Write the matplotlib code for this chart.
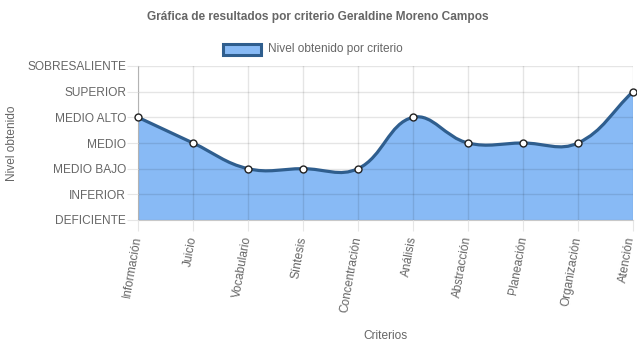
import numpy as np
import matplotlib.pyplot as plt
import matplotlib.transforms as mtransforms
from matplotlib.path import Path
from matplotlib.patches import PathPatch, Rectangle

plt.rcParams['font.family'] = ['Liberation Sans', 'DejaVu Sans']

# datos
criterios = ["Información", "Juicio", "Vocabulario", "Síntesis", "Concentración",
             "Análisis", "Abstracción", "Planeación", "Organización", "Atención"]
niveles = ["DEFICIENTE", "INFERIOR", "MEDIO BAJO", "MEDIO", "MEDIO ALTO",
           "SUPERIOR", "SOBRESALIENTE"]
valores = [4, 3, 2, 2, 2, 4, 3, 3, 3, 5]

W, H = 637, 348
size = 8.6
gris = "#666666"
azul_fill = "#88baf5"
azul_line = "#2f5e8e"

fig = plt.figure(figsize=(W / 100, H / 100), dpi=100)
ax = fig.add_axes([138 / W, 1 - 220 / H, (633 - 138) / W, (220 - 66) / H])

x = np.arange(len(criterios), dtype=float)
y = np.array(valores, dtype=float)

# curva tipo chart.js (tension 0.4), distancias en pixeles
sx = (633 - 138) / (len(criterios) - 1)
sy = (220 - 66) / (len(niveles) - 1)
t = 0.4
px, py = x * sx, y * sy
n = len(x)
cp_prev = []
cp_next = []
for i in range(n):
    a = max(i - 1, 0)
    c = min(i + 1, n - 1)
    d01 = np.hypot(px[i] - px[a], py[i] - py[a])
    d12 = np.hypot(px[c] - px[i], py[c] - py[i])
    tot = d01 + d12
    s01 = d01 / tot if tot else 0
    s12 = d12 / tot if tot else 0
    fa, fb = t * s01, t * s12
    cp_prev.append(((px[i] - fa * (px[c] - px[a])) / sx, (py[i] - fa * (py[c] - py[a])) / sy))
    cp_next.append(((px[i] + fb * (px[c] - px[a])) / sx, (py[i] + fb * (py[c] - py[a])) / sy))

verts = [(x[0], y[0])]
codes = [Path.MOVETO]
for i in range(n - 1):
    verts += [cp_next[i], cp_prev[i + 1], (x[i + 1], y[i + 1])]
    codes += [Path.CURVE4] * 3

fill_verts = verts + [(x[-1], 0), (x[0], 0), (x[0], y[0])]
fill_codes = codes + [Path.LINETO, Path.LINETO, Path.CLOSEPOLY]
ax.add_patch(PathPatch(Path(fill_verts, fill_codes), facecolor=azul_fill, edgecolor="none", zorder=1))
ax.add_patch(PathPatch(Path(verts, codes), facecolor="none", edgecolor=azul_line, lw=2.3, zorder=3))
ax.plot(x, y, "o", ms=5, mfc="white", mec="#222222", mew=1, zorder=4, clip_on=False)

ax.set_xlim(0, n - 1)
ax.set_ylim(0, len(niveles) - 1)
ax.set_xticks(x)
ax.set_xticklabels(criterios, rotation=80, ha="right", va="center", rotation_mode="anchor")
ax.set_yticks(range(len(niveles)))
ax.set_yticklabels(niveles)
ax.tick_params(length=8, color="#e6e6e6", labelcolor=gris, labelsize=size)
ax.tick_params(axis="x", pad=4)
ax.tick_params(axis="y", pad=0.5)
ax.grid(True, color="black", alpha=0.1, lw=1)
ax.set_axisbelow(False)
for s in ["top", "right"]:
    ax.spines[s].set_visible(False)
for s in ["left", "bottom"]:
    ax.spines[s].set_color("#c8c8c8")

# la última etiqueta queda pegada al borde
lbl = ax.get_xticklabels()[-1]
lbl.set_transform(lbl.get_transform() + mtransforms.ScaledTranslation(-2 / 100, 0, fig.dpi_scale_trans))

fig.text(318 / W, 1 - 17 / H, "Gráfica de resultados por criterio Geraldine Moreno Campos",
         ha="center", va="center", fontsize=size, fontweight="bold", color=gris)
fig.add_artist(Rectangle((223 / W, 1 - 55 / H), 38 / W, 11 / H, transform=fig.transFigure,
                         facecolor=azul_fill, edgecolor=azul_line, lw=2.2))
fig.text(268 / W, 1 - 49 / H, "Nivel obtenido por criterio", ha="left", va="center",
         fontsize=size, color=gris)
fig.text(12 / W, 1 - 143 / H, "Nivel obtenido", rotation=90, ha="center", va="center",
         fontsize=size, color=gris)
fig.text(385 / W, 1 - 336 / H, "Criterios", ha="center", va="center", fontsize=size, color=gris)

fig.savefig("out.png", dpi=100)
